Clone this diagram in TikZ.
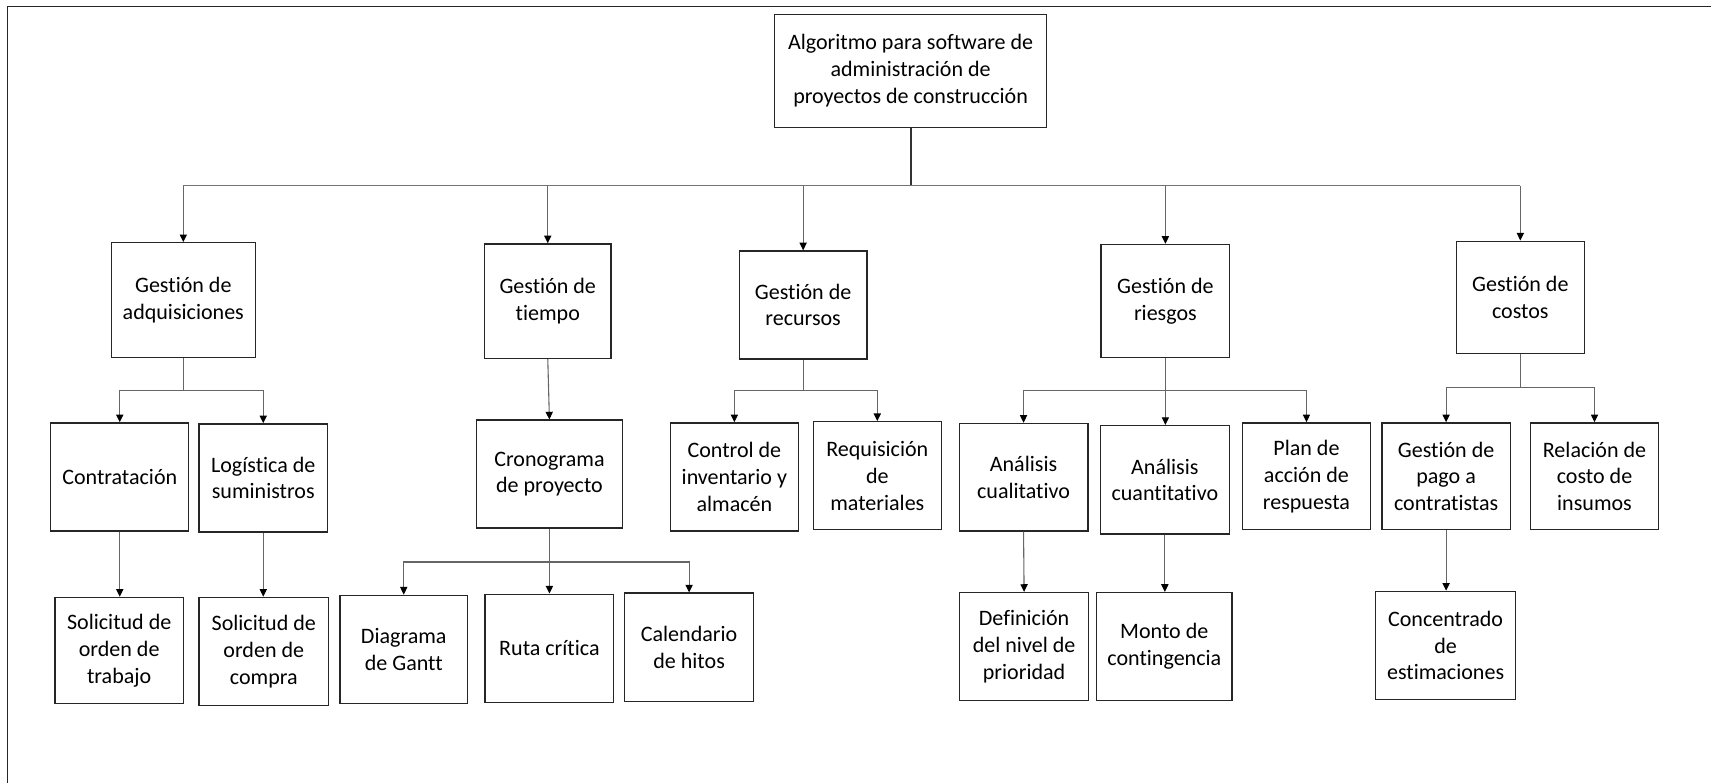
\documentclass[tikz,border=0pt]{standalone}
\usepackage{fontspec}
\setmainfont{Carlito}[Ligatures=NoCommon]
\usetikzlibrary{arrows.meta}

% Box given by its corners (x1,y1) and (x2,y2) in drawing units
\newcommand\bx[6]{%
  \node[boxst, minimum width={0.5pt*(#4-#2)}, minimum height={0.5pt*(#5-#3)}]
    (#1) at ({(#2+#4)/2},{(#3+#5)/2}) {#6};}

\begin{document}
\begin{tikzpicture}[x=0.5pt, y=-0.5pt,
  boxst/.style={draw=black!85, line width=0.6pt, fill=white, inner sep=0pt,
    align=center, font=\fontsize{10.1}{12.3}\selectfont, text=black},
  trunk/.style={draw=black!80, line width=0.9pt},
  busline/.style={draw=black!55, line width=0.9pt},
  link/.style={draw=black!60, line width=0.5pt},
  arr/.style={link, -{Triangle[length=3.5pt, width=3.3pt, color=black]}},
  frameline/.style={draw=black!85, line width=0.55pt}]

\useasboundingbox (0,0) rectangle (1568,718);

% page frame (top and left edges)
\coordinate (fTL) at (7,6);
\coordinate (fTR) at (1568,6);
\coordinate (fBL) at (7,718);
\draw[frameline] (fTR) -- (fTL) -- (fBL);

% ---------- boxes ----------
\bx{root}{710}{13}{959}{117}{Algoritmo para software de\\administración de\\proyectos de construcción}

\bx{adq}{102}{222.5}{234}{327.5}{Gestión de\\adquisiciones}
\bx{tie}{444}{223.5}{560}{328.5}{Gestión de\\tiempo}
\bx{rec}{677.5}{230}{794.5}{329}{Gestión de\\recursos}
\bx{rie}{1009}{224}{1127}{327.5}{Gestión de\\riesgos}
\bx{cos}{1334.5}{221}{1452}{324}{Gestión de\\costos}

\bx{con}{46.5}{387.5}{173}{486.5}{Contratación}
\bx{log}{182.5}{388.5}{300}{487.5}{Logística de\\suministros}
\bx{sot}{50.5}{547.5}{168}{645}{Solicitud de\\orden de\\trabajo}
\bx{soc}{182.5}{547.5}{301}{646.5}{Solicitud de\\orden de\\compra}

\bx{cro}{436.5}{385}{570.5}{484}{Cronograma\\de proyecto}
\bx{gan}{311.5}{545.5}{428.5}{644.5}{Diagrama\\de Gantt}
\bx{rut}{444.5}{544.5}{562.5}{644}{Ruta crítica}
\bx{cal}{572.5}{543.5}{690.5}{643}{Calendario\\de hitos}

\bx{inv}{614.5}{387.5}{731.5}{486.5}{Control de\\inventario y\\almacén}
\bx{req}{745.5}{386.5}{862.5}{485.5}{Requisición\\de\\materiales}

\bx{cua}{879}{388}{997}{486.5}{Análisis\\cualitativo}
\bx{cut}{1008.5}{390}{1126.5}{489.5}{Análisis\\cuantitativo}
\bx{pla}{1138.5}{387.5}{1256}{485.5}{Plan de\\acción de\\respuesta}
\bx{def}{879.5}{543}{997.5}{642}{Definición\\del nivel de\\prioridad}
\bx{mon}{1005}{543}{1129}{642}{Monto de\\contingencia}

\bx{pag}{1266.5}{387.5}{1384}{485.5}{Gestión de\\pago a\\contratistas}
\bx{rel}{1402.5}{387.5}{1520}{485.5}{Relación de\\costo de\\insumos}
\bx{cnc}{1260.5}{542}{1389}{641}{Concentrado\\de\\estimaciones}

% ---------- junction points ----------
\coordinate (j0) at (root.south |- 0,170);
\coordinate (jadq) at (adq.south |- 0,357.5);
\coordinate (jcro) at (cro.south |- 0,515);
\coordinate (jrec) at (rec.south |- 0,357.5);
\coordinate (jrie) at (rie.south |- 0,357.5);
\coordinate (jcos) at (cos.south |- 0,355.5);

% ---------- connectors ----------
\draw[trunk] (root.south) -- (j0);
\draw[busline] (adq.north |- j0) -- (cos.north |- j0);
\foreach \n in {adq,tie,rec,rie,cos}
  \draw[arr] (j0 -| \n.north) -- (\n.north);

\draw[link] (adq.south) -- (jadq);
\foreach \n in {con,log} \draw[arr] (jadq) -| (\n.north);
\draw[arr] (con.south) -- (con.south |- sot.north);
\draw[arr] (log.south) -- (log.south |- soc.north);

\draw[arr] (tie.south) -- (cro.north);
\draw[link] (cro.south) -- (jcro);
\draw[arr] (jcro) -| (gan.north);
\draw[arr] (jcro) -| (cal.north);
\draw[arr] (jcro) -- (jcro |- rut.north);

\draw[link] (rec.south) -- (jrec);
\foreach \n in {inv,req} \draw[arr] (jrec) -| (\n.north);

\draw[link] (rie.south) -- (jrie);
\draw[arr] (jrie) -| (cua.north);
\draw[arr] (jrie) -| (pla.north);
\draw[arr] (jrie) -- (jrie |- cut.north);
\draw[arr] (cua.south) -- (def.north);
\draw[arr] (cut.south) -- (cut.south |- mon.north);

\draw[link] (cos.south) -- (jcos);
\foreach \n in {pag,rel} \draw[arr] (jcos) -| (\n.north);
\draw[arr] (pag.south) -- (pag.south |- cnc.north);

\end{tikzpicture}
\end{document}
